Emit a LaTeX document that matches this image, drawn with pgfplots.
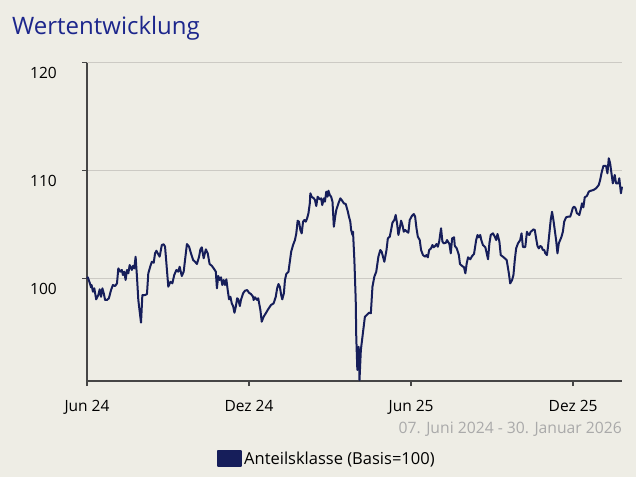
\documentclass[border=0pt]{standalone}
\usepackage{pgfplots}
\pgfplotsset{compat=1.18}
\usepackage{pgfplotstable}
\usepackage{fontspec}
\setmainfont{Open Sans}
\definecolor{bg}{RGB}{238,237,229}
\definecolor{navy}{RGB}{22,30,90}
\definecolor{titleblue}{RGB}{28,38,140}
\definecolor{gridc}{RGB}{204,202,196}
\definecolor{axisc}{RGB}{70,70,70}
\definecolor{datec}{RGB}{170,170,170}
\pgfplotstableread{
m v
0.00 100.00
0.03 100.13
0.10 99.63
0.15 99.20
0.17 99.42
0.22 98.80
0.27 99.11
0.34 98.09
0.42 98.49
0.47 99.02
0.52 98.33
0.57 99.11
0.62 98.65
0.67 98.03
0.74 98.03
0.81 98.19
0.89 98.95
0.96 99.42
1.04 99.32
1.11 99.57
1.16 100.96
1.23 100.65
1.29 100.81
1.33 100.34
1.38 100.65
1.43 99.88
1.48 100.81
1.53 100.50
1.58 101.27
1.66 100.81
1.70 101.18
1.75 100.96
1.80 102.04
1.85 100.19
1.90 98.03
2.00 95.93
2.05 98.49
2.15 98.49
2.22 98.58
2.27 100.50
2.34 101.11
2.40 101.57
2.47 101.48
2.52 102.35
2.57 102.59
2.62 102.35
2.69 102.04
2.77 103.12
2.84 103.19
2.89 102.96
2.94 101.43
3.01 99.26
3.09 99.72
3.16 99.57
3.23 100.34
3.31 100.81
3.38 100.65
3.43 101.11
3.51 100.25
3.58 100.65
3.63 101.73
3.70 103.21
3.78 102.96
3.85 102.35
3.93 101.73
4.00 101.57
4.07 101.36
4.15 102.04
4.20 102.72
4.25 102.91
4.32 101.89
4.40 102.72
4.47 102.35
4.54 101.36
4.62 101.20
4.69 100.96
4.77 100.65
4.81 99.11
4.86 100.25
4.91 99.88
4.96 100.13
5.01 99.42
5.06 99.88
5.11 99.42
5.16 99.94
5.21 98.95
5.26 98.09
5.31 98.33
5.36 97.72
5.41 97.47
5.46 96.85
5.51 97.41
5.56 98.19
5.60 98.09
5.66 97.47
5.70 98.03
5.78 98.65
5.85 98.89
5.93 98.95
6.00 98.70
6.07 98.58
6.15 98.33
6.17 98.03
6.22 98.28
6.30 98.03
6.34 98.19
6.42 97.10
6.47 96.02
6.54 96.48
6.62 96.80
6.69 97.10
6.77 97.41
6.81 97.56
6.91 97.72
6.99 98.33
7.04 99.11
7.09 99.51
7.14 99.26
7.19 98.49
7.23 98.09
7.29 98.65
7.33 99.88
7.38 100.44
7.46 100.65
7.51 101.57
7.56 102.50
7.63 103.12
7.70 103.58
7.75 104.20
7.80 105.37
7.85 105.28
7.90 104.51
7.95 104.20
8.00 105.28
8.05 105.44
8.10 105.28
8.15 105.59
8.20 106.06
8.25 106.98
8.27 107.91
8.32 107.59
8.40 107.44
8.44 107.29
8.49 106.73
8.54 107.59
8.62 107.35
8.67 107.44
8.71 106.82
8.77 107.44
8.81 107.13
8.86 108.06
8.91 107.59
8.94 108.15
8.99 107.75
9.04 107.59
9.09 107.13
9.14 104.81
9.19 105.74
9.23 106.36
9.31 106.98
9.38 107.44
9.43 107.29
9.51 106.98
9.58 106.92
9.66 106.20
9.70 105.74
9.75 105.28
9.78 104.51
9.83 104.05
9.85 104.35
9.90 101.73
9.95 98.03
9.97 94.63
10.01 91.55
10.06 93.70
10.09 90.62
10.14 93.40
10.23 95.25
10.29 96.48
10.36 96.64
10.44 96.85
10.51 96.80
10.57 99.26
10.64 100.19
10.71 100.65
10.79 102.04
10.86 102.66
10.91 102.50
10.96 102.04
11.01 101.57
11.09 102.66
11.14 103.74
11.21 103.89
11.26 104.51
11.31 105.19
11.38 105.44
11.43 105.90
11.48 105.13
11.53 104.05
11.58 104.67
11.63 105.37
11.68 104.97
11.73 104.35
11.78 104.51
11.85 104.35
11.90 104.26
11.95 105.44
12.03 105.81
12.10 105.99
12.15 105.74
12.20 104.67
12.25 103.89
12.32 103.58
12.37 102.66
12.44 102.19
12.52 102.04
12.57 102.19
12.62 101.98
12.67 102.66
12.74 102.81
12.79 103.12
12.84 102.91
12.89 103.03
12.94 103.21
12.99 102.96
13.04 103.43
13.11 104.67
13.16 103.43
13.21 103.28
13.29 103.33
13.33 103.58
13.42 103.21
13.47 102.35
13.52 103.74
13.59 103.83
13.62 103.03
13.69 102.81
13.77 102.19
13.81 101.36
13.89 101.18
13.96 101.06
14.01 100.50
14.06 101.43
14.11 101.98
14.19 101.80
14.26 102.10
14.33 102.29
14.41 103.58
14.46 104.05
14.51 103.83
14.56 104.05
14.60 103.58
14.66 103.12
14.70 103.03
14.75 102.91
14.85 101.80
14.90 103.28
14.95 104.05
15.03 104.20
15.10 103.89
15.15 103.58
15.20 104.14
15.27 103.43
15.32 102.19
15.40 102.04
15.47 101.89
15.54 101.73
15.62 100.50
15.67 99.57
15.74 99.88
15.79 100.34
15.84 101.73
15.89 102.81
15.96 103.28
16.04 103.58
16.09 104.20
16.14 102.96
16.19 102.91
16.23 102.96
16.29 104.35
16.33 104.14
16.38 104.05
16.43 104.35
16.48 104.44
16.53 104.57
16.58 104.51
16.63 103.74
16.68 103.03
16.73 102.81
16.78 103.03
16.83 102.96
16.88 102.66
16.93 102.66
16.97 102.35
17.03 102.19
17.07 102.96
17.12 104.20
17.17 105.44
17.22 106.20
17.27 105.44
17.32 104.51
17.37 103.58
17.42 102.35
17.47 103.28
17.52 103.58
17.57 103.89
17.62 104.35
17.67 105.28
17.74 105.69
17.81 105.74
17.89 105.74
17.94 106.11
17.99 106.57
18.04 106.67
18.09 106.52
18.14 106.06
18.19 105.99
18.23 105.90
18.29 106.52
18.33 106.98
18.38 106.61
18.43 107.54
18.51 107.66
18.58 108.06
18.66 108.15
18.75 108.21
18.85 108.37
18.95 108.68
19.00 109.14
19.05 109.76
19.12 110.44
19.22 110.44
19.27 109.76
19.32 111.15
19.37 110.69
19.42 109.76
19.47 108.83
19.54 109.60
19.59 108.83
19.67 108.83
19.71 109.30
19.77 107.91
19.81 108.52
}\perfdata
\begin{document}
\begin{tikzpicture}[x=1pt,y=1pt]
\fill[bg] (0,0) rectangle (636,477);
\node[anchor=base west, inner sep=0pt, text=titleblue, font=\fontsize{24}{28}\selectfont] at (12,442) {Wertentwicklung};
\begin{axis}[
  at={(87pt,96pt)}, anchor=south west,
  scale only axis, width=535pt, height=318.3pt,
  xmin=0, xmax=19.81, ymin=90.53, ymax=120,
  axis lines*=left,
  axis line style={axisc, line width=1.5pt},
  xtick={0,6,12,18}, xticklabels={Jun 24, Dez 24, Jun 25, Dez 25},
  ytick={100,110,120},
  tick align=outside, major tick length=5pt,
  tick style={axisc, line width=1.3pt},
  ymajorgrids, grid style={gridc, line width=1.2pt},
  /pgf/number format/assume math mode=true,
  ticklabel style={font=\fontsize{15.5}{17}\selectfont, text=black},
  yticklabel style={anchor=east, inner sep=0pt, xshift=-25pt, yshift=-10.5pt},
  xticklabel style={anchor=north, inner sep=0pt, yshift=-14pt},
  legend style={at={(0.243,-0.245)}, anchor=west, draw=none, fill=none, inner sep=0pt,
     font=\fontsize{16.5}{18}\selectfont},
  legend image code/.code={\fill[navy] (0pt,-7.5pt) rectangle (23pt,7.5pt);},
  clip=false,
]
\addplot[navy, line width=2pt, line join=round] table[x=m, y=v] {\perfdata};
\addlegendentry{Anteilsklasse (Basis=100)}
\end{axis}
\node[anchor=east, inner sep=0pt, text=datec, font=\fontsize{15.7}{17}\selectfont] at (622,48) {07. Juni 2024 - 30. Januar 2026};
\end{tikzpicture}
\end{document}
